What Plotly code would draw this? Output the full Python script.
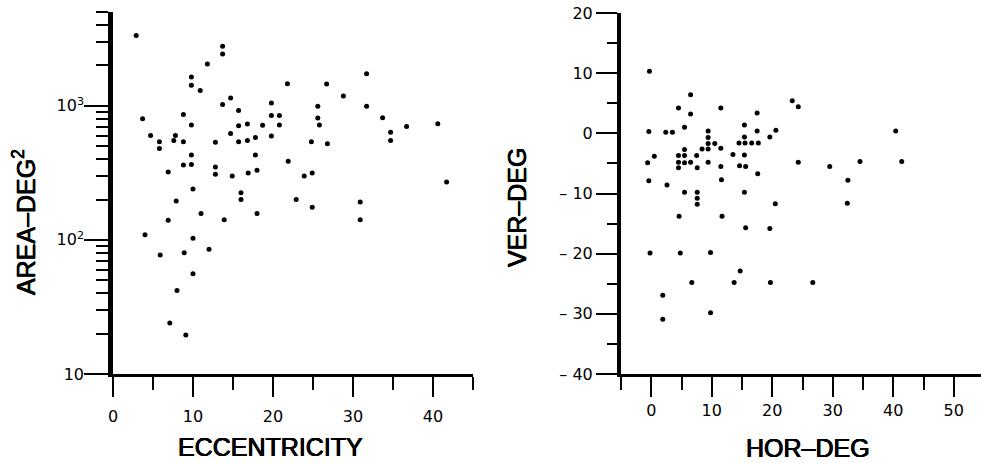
import plotly.graph_objects as go

# ---- Left panel: eccentricity vs area ----
ecc = [2.9, 13.7, 13.7, 11.8, 9.8, 9.8, 10.9, 14.7, 13.7, 15.7,
       3.7, 8.8, 9.8, 15.7, 16.8, 4.7, 7.8, 5.8, 7.6, 8.8,
       5.8, 14.7, 15.7, 16.8, 12.8, 9.8, 8.8, 9.8, 6.9, 12.8,
       12.8, 14.9, 16.9, 10.0, 16.0, 31.7, 21.8, 26.7, 28.8, 19.8,
       25.6, 31.7, 19.8, 20.8, 25.6, 33.7, 18.7, 20.8, 25.8, 36.7,
       40.6, 34.7, 34.7, 17.8, 19.8, 24.8, 26.8, 17.8, 21.9, 18.0,
       23.9, 24.9, 41.7, 16.0, 13.9, 18.0, 22.9, 24.9, 30.9, 30.9,
       7.9, 11.0, 6.9, 4.0, 10.0, 5.9, 8.9, 12.0, 10.0, 8.0,
       7.1, 9.1]
area = [3340, 2780, 2430, 2050, 1640, 1420, 1300, 1140, 1020, 920,
        800, 860, 720, 710, 730, 600, 600, 540, 550, 540,
        480, 620, 540, 550, 535, 430, 362, 365, 320, 350,
        308, 300, 315, 240, 225, 1730, 1460, 1450, 1180, 1050,
        990, 990, 845, 845, 810, 815, 715, 720, 720, 700,
        735, 635, 550, 580, 595, 540, 520, 430, 385, 330,
        300, 315, 270, 200, 141, 157, 200, 175, 192, 141,
        195, 157, 140, 109, 103, 77, 80, 85, 56, 42,
        24, 19.5]

# ---- Right panel: horizontal vs vertical position ----
hor = [-0.3, 6.5, 4.5, 6.5, 11.5, -0.4, 2.4, 3.5, 5.5, 9.4,
       9.4, 9.4, 10.5, 8.4, 9.4, 11.5, 5.5, 0.5, 4.5, 5.5,
       7.5, -0.6, 4.5, 5.5, 6.5, 9.4, 4.5, 7.6, 11.5, -0.4,
       2.6, 11.6, 5.5, 7.6, 7.6, 7.6, 15.4, 17.5, 15.4, 17.5,
       15.4, 14.5, 15.5, 16.6, 17.7, 13.5, 15.4, 14.6, 15.6, 17.6,
       23.3, 24.3, 20.6, 19.6, 40.4, 24.3, 29.5, 34.5, 41.4, 32.5,
       20.5, 32.4, 11.7, 15.6, 19.6, 14.7, 13.7, 19.7, 26.7, 4.6,
       -0.2, 4.8, 9.8, 6.7, 1.9, 1.9, 9.8]
ver = [10.3, 6.4, 4.2, 3.2, 4.2, 0.3, 0.2, 0.2, 1.0, 0.4,
       -0.7, -1.7, -1.7, -2.6, -2.6, -2.5, -2.7, -3.8, -3.7, -3.7,
       -3.7, -4.9, -4.8, -4.9, -4.8, -4.8, -5.7, -5.7, -5.5, -7.9,
       -8.6, -7.7, -9.8, -9.8, -10.8, -11.8, -9.8, 3.4, 1.4, 0.4,
       -0.6, -1.6, -1.6, -1.6, -1.6, -3.5, -3.6, -5.4, -5.5, -6.7,
       5.4, 4.4, 0.5, -0.6, 0.4, -4.8, -5.5, -4.7, -4.7, -7.8,
       -11.7, -11.6, -13.8, -15.7, -15.8, -22.9, -24.8, -24.8, -24.8, -13.8,
       -19.9, -19.9, -19.8, -24.8, -26.9, -30.9, -29.8]

# ---- Tick labels ----
area_tick_vals = [10, 100, 1000]
area_tick_text = ["10", "10<sup>2</sup>", "10<sup>3</sup>"]
area_minor_vals = [20, 30, 40, 50, 60, 70, 80, 90,
                   200, 300, 400, 500, 600, 700, 800, 900,
                   2000, 3000, 4000, 5000]
ecc_tick_vals = [0, 10, 20, 30, 40]
hor_tick_vals = [0, 10, 20, 30, 40, 50]
ver_tick_vals = [20, 10, 0, -10, -20, -30, -40]
ver_tick_text = ["20", "10", "0", "\u2013 10", "\u2013 20", "\u2013 30", "\u2013 40"]

TITLE_FONT = "Liberation Sans"
TICK_FONT = "DejaVu Sans"
W, H = 981, 463

fig = go.Figure()
fig.add_trace(go.Scatter(x=ecc, y=area, mode="markers",
                         marker=dict(color="black", size=5),
                         xaxis="x", yaxis="y", showlegend=False))
fig.add_trace(go.Scatter(x=hor, y=ver, mode="markers",
                         marker=dict(color="black", size=5),
                         xaxis="x2", yaxis="y2", showlegend=False))

tickfont = dict(family=TICK_FONT, size=16, color="black")

fig.update_layout(
    template="none",
    width=W, height=H,
    margin=dict(l=0, r=0, t=0, b=0, pad=0),
    paper_bgcolor="white", plot_bgcolor="white",
    font=dict(family=TITLE_FONT, color="black"),
    xaxis=dict(domain=[113 / W, 473 / W], range=[0, 45], anchor="y",
               automargin=False,
               tickmode="array", tickvals=ecc_tick_vals,
               ticks="outside", ticklen=20, tickwidth=2,
               tickcolor="black", tickfont=tickfont, ticklabelstandoff=6,
               minor=dict(dtick=5, tick0=0, ticks="outside", ticklen=13, tickwidth=2,
                          tickcolor="black", showgrid=False),
               showline=True, linecolor="black", linewidth=3,
               showgrid=False, zeroline=False),
    yaxis=dict(domain=[(H - 374) / H, (H - 12) / H], type="log",
               range=[1, 3.699], anchor="x", automargin=False,
               tickmode="array", tickvals=area_tick_vals, ticktext=area_tick_text,
               ticks="outside", ticklen=24, tickwidth=2, tickcolor="black",
               tickfont=tickfont, ticklabelstandoff=-3,
               minor=dict(tickmode="array", tickvals=area_minor_vals, ticks="outside",
                          ticklen=12, tickwidth=2, tickcolor="black", showgrid=False),
               showline=True, linecolor="black", linewidth=4.5,
               showgrid=False, zeroline=False),
    xaxis2=dict(domain=[621 / W, 1.0], range=[-5, 54.5], anchor="y2",
                automargin=False,
                tickmode="array", tickvals=hor_tick_vals,
                ticks="outside", ticklen=20, tickwidth=2,
                tickcolor="black", tickfont=tickfont,
                minor=dict(dtick=5, tick0=-5, ticks="outside", ticklen=13, tickwidth=2,
                           tickcolor="black", showgrid=False),
                showline=True, linecolor="black", linewidth=3,
                showgrid=False, zeroline=False),
    yaxis2=dict(domain=[(H - 374) / H, (H - 13) / H], range=[-40, 20], anchor="x2",
                automargin=False,
                tickmode="array", tickvals=ver_tick_vals, ticktext=ver_tick_text,
                ticks="outside", ticklen=21, tickwidth=2, tickcolor="black",
                tickfont=tickfont,
                minor=dict(dtick=5, tick0=0, ticks="outside", ticklen=10, tickwidth=2,
                           tickcolor="black", showgrid=False),
                showline=True, linecolor="black", linewidth=4,
                showgrid=False, zeroline=False),
)

title_font = dict(family=TITLE_FONT, size=25, color="black",
                  shadow="0.45px 0 0 black, -0.45px 0 0 black, 0 0.35px 0 black")
fig.add_annotation(text="ECCENTRICITY", xref="paper", yref="paper",
                   x=270 / W, y=(H - 447) / H, showarrow=False,
                   xanchor="center", yanchor="middle", font=title_font)
fig.add_annotation(text="HOR\u2013DEG", xref="paper", yref="paper",
                   x=808 / W, y=(H - 448) / H, showarrow=False,
                   xanchor="center", yanchor="middle", font=title_font)
fig.add_annotation(text="AREA\u2013DEG<sup>2</sup>", xref="paper", yref="paper",
                   x=24 / W, y=(H - 222) / H, showarrow=False, textangle=-90,
                   xanchor="center", yanchor="middle", font=title_font)
fig.add_annotation(text="VER\u2013DEG", xref="paper", yref="paper",
                   x=517 / W, y=(H - 208) / H, showarrow=False, textangle=-90,
                   xanchor="center", yanchor="middle", font=title_font)

fig.write_html("out.html", config={"displayModeBar": False},
               post_script="document.body.style.margin='0';document.body.style.padding='0';")
